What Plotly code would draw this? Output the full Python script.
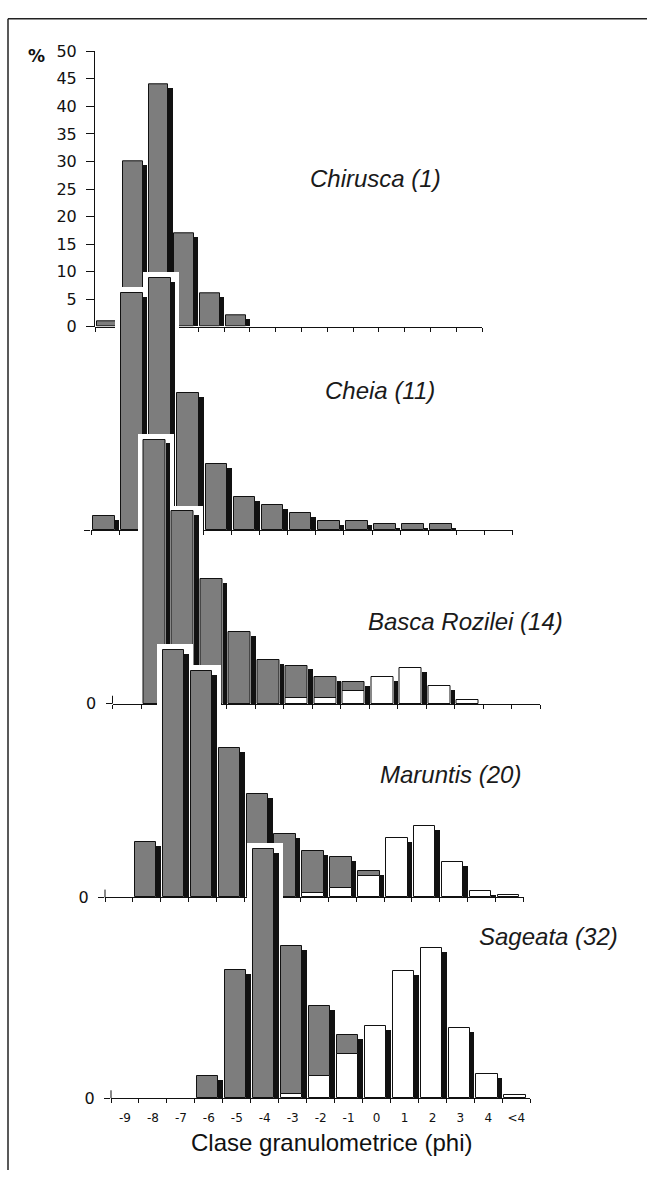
import plotly.graph_objects as go

# ---------------- data (percent per grain-size class) ----------------
classes = ["-9", "-8", "-7", "-6", "-5", "-4", "-3", "-2", "-1", "0", "1", "2", "3", "4", "<4"]
sites = ["Chirusca (1)", "Cheia (11)", "Basca Rozilei (14)", "Maruntis (20)", "Sageata (32)"]

chirusca_gravel = [1.0, 30.0, 44.0, 17.0, 6.0, 2.0, 0, 0, 0, 0, 0, 0, 0, 0, 0]
chirusca_sand = [0, 0, 0, 0, 0, 0, 0, 0, 0, 0, 0, 0, 0, 0, 0]
cheia_gravel = [1.8, 28.8, 30.6, 16.7, 8.0, 4.1, 3.1, 2.1, 1.2, 1.1, 0.8, 0.8, 0.8, 0, 0]
cheia_sand = [0, 0, 0, 0, 0, 0, 0, 0, 0, 0, 0, 0, 0, 0, 0]
basca_gravel = [0, 30.5, 22.2, 14.4, 8.3, 5.0, 3.8, 2.4, 1.0, 0, 0, 0, 0, 0, 0]
basca_sand = [0, 0, 0, 0, 0, 0, 0.6, 0.7, 1.5, 3.1, 4.1, 2.0, 0.4, 0, 0]
maruntis_gravel = [0, 4.9, 21.8, 20.0, 13.2, 9.1, 5.6, 3.7, 2.8, 0.4, 0, 0, 0, 0, 0]
maruntis_sand = [0, 0, 0, 0, 0, 0, 0, 0.4, 0.8, 1.9, 5.2, 6.3, 3.1, 0.6, 0.2]
sageata_gravel = [0, 0, 0, 1.9, 11.1, 21.6, 12.8, 6.1, 1.7, 0, 0, 0, 0, 0, 0]
sageata_sand = [0, 0, 0, 0, 0, 0, 0.4, 1.9, 3.8, 6.3, 11.0, 13.0, 6.1, 2.1, 0.3]

y_ticks_top = [0, 5, 10, 15, 20, 25, 30, 35, 40, 45, 50]

gravel = [chirusca_gravel, cheia_gravel, basca_gravel, maruntis_gravel, sageata_gravel]
sand = [chirusca_sand, cheia_sand, basca_sand, maruntis_sand, sageata_sand]

# ---------------- layout of the montage (pixels) ----------------
W, H = 647, 1180
# L: left edge of class -9, w: class width, B: baseline, s: px per %
panels = [
    dict(L=95.0, w=25.8, B=323, s=5.6, title=(308, 172)),
    dict(L=91.0, w=28.1, B=530, s=8.39, title=(323, 388)),
    dict(L=112.5, w=28.5, B=706, s=8.8, title=(366, 623)),
    dict(L=105.0, w=27.9, B=903, s=11.53, title=(378, 778)),
    dict(L=111.0, w=27.95, B=1107, s=11.71, title=(477, 943)),
]

A, G, SH = 0.075, 0.77, 0.16        # gap, face width, shadow width (class units)
GRAY, BLACK = "#7d7d7d", "#111111"
tfont = "Liberation Sans, Arial, sans-serif"
nfont = "DejaVu Sans, sans-serif"

fig = go.Figure()
n = len(classes)
xi = list(range(n))

for k in range(5):
    p = panels[k]
    sfx = "" if k == 0 else str(k + 1)
    xa, ya = "x" + sfx, "y" + sfx
    tot = [g + s_ for g, s_ in zip(gravel[k], sand[k])]

    if k > 0:  # white cut-out around bars that overlap the panel above
        halo = [t + 6 / p["s"] if t > 0 else None for t in tot]
        fig.add_trace(go.Bar(x=xi, y=halo, base=0, width=G + SH + 10 / p["w"],
                             offset=-0.5 + A - 6 / p["w"],
                             marker=dict(color="white", line=dict(width=0)),
                             xaxis=xa, yaxis=ya, hoverinfo="skip", showlegend=False))
    shadow = [max(t - 4 / p["s"], 0) if t > 0 else None for t in tot]
    fig.add_trace(go.Bar(x=xi, y=shadow, base=0, width=SH, offset=-0.5 + A + G,
                         marker=dict(color=BLACK, line=dict(width=0)),
                         xaxis=xa, yaxis=ya, hoverinfo="skip", showlegend=False))
    fig.add_trace(go.Bar(x=xi, y=[v if v > 0 else None for v in sand[k]], base=0,
                         width=G, offset=-0.5 + A,
                         marker=dict(color="white", line=dict(width=1, color=BLACK)),
                         xaxis=xa, yaxis=ya, name=sites[k] + " sand", showlegend=False))
    fig.add_trace(go.Bar(x=xi, y=[v if v > 0 else None for v in gravel[k]], base=sand[k],
                         width=G, offset=-0.5 + A,
                         marker=dict(color=GRAY, line=dict(width=1, color=BLACK)),
                         xaxis=xa, yaxis=ya, name=sites[k], showlegend=False))

    x0, x1 = p["L"] / W, (p["L"] + n * p["w"]) / W
    xaxis = dict(domain=[x0, x1], range=[-0.5, n - 0.5], anchor="free",
                 position=(H - p["B"]) / H, showline=True, linecolor=BLACK, linewidth=1,
                 ticks="outside", ticklen=4, tickcolor=BLACK, tickwidth=1,
                 tickvals=[i - 0.5 for i in range(n + 1)], ticktext=classes + [""],
                 showticklabels=(k == 4), ticklabelshift=int(round(p["w"] / 2)),
                 ticklabelstandoff=4,
                 tickfont=dict(family=nfont, size=12, color="#111"),
                 showgrid=False, zeroline=False, fixedrange=True)
    if k == 0:
        yaxis = dict(domain=[(H - p["B"]) / H, (H - p["B"] + 50 * p["s"]) / H],
                     range=[0, 50], anchor=xa, showline=True, linecolor=BLACK, linewidth=1,
                     ticks="outside", ticklen=8, tickcolor=BLACK,
                     tickvals=y_ticks_top, ticktext=[str(v) for v in y_ticks_top],
                     ticklabelstandoff=6, tickfont=dict(family=nfont, size=16, color="#111"),
                     showgrid=False, zeroline=False, fixedrange=True)
    else:
        yaxis = dict(domain=[0, 1], range=[-(H - p["B"]) / p["s"], p["B"] / p["s"]],
                     anchor=xa, showline=False, ticks="outside", ticklen=6, tickcolor=BLACK,
                     tickvals=[0], ticktext=["" if k == 1 else "0"],
                     ticklabelstandoff=6, tickfont=dict(family=nfont, size=16, color="#111"),
                     showgrid=False, zeroline=False, fixedrange=True)
        if k > 1:
            fig.add_shape(type="line", xref="paper", yref=ya, x0=p["L"] / W, x1=p["L"] / W,
                          y0=0, y1=8 / p["s"], line=dict(color=BLACK, width=1))
    fig.layout["xaxis" + sfx] = xaxis
    fig.layout["yaxis" + sfx] = yaxis

    tx, ty = p["title"]
    fig.add_annotation(x=tx / W, y=1 - ty / H, xref="paper", yref="paper",
                       xanchor="left", yanchor="middle", showarrow=False,
                       text="<i>" + sites[k] + "</i>",
                       font=dict(family=tfont, size=24, color="#1a1a1a"))

fig.add_annotation(x=36 / W, y=1 - 48 / H, xref="paper", yref="paper", showarrow=False,
                   xanchor="center", yanchor="middle", text="<b>%</b>",
                   font=dict(family=nfont, size=17, color="#111"))
fig.add_annotation(x=331 / W, y=1 - 1152 / H, xref="paper", yref="paper", showarrow=False,
                   xanchor="center", yanchor="middle", text="Clase granulometrice (phi)",
                   font=dict(family=tfont, size=24, color="#111"))

# frame of the scanned figure (top and left edges)
fig.add_shape(type="line", xref="paper", yref="paper", x0=8 / W, x1=1, y0=1 - 10 / H, y1=1 - 10 / H,
              line=dict(color="#222", width=1.5))
fig.add_shape(type="line", xref="paper", yref="paper", x0=8 / W, x1=8 / W, y0=0, y1=1 - 10 / H,
              line=dict(color="#222", width=1.5))

fig.update_layout(width=W, height=H, margin=dict(l=0, r=0, t=0, b=0, pad=0),
                  barmode="overlay", bargap=0, paper_bgcolor="white",
                  plot_bgcolor="rgba(0,0,0,0)", showlegend=False)

fig.write_html("out.html", config={"displayModeBar": False},
               post_script="document.body.style.margin='0px';document.body.style.overflow='hidden';")
